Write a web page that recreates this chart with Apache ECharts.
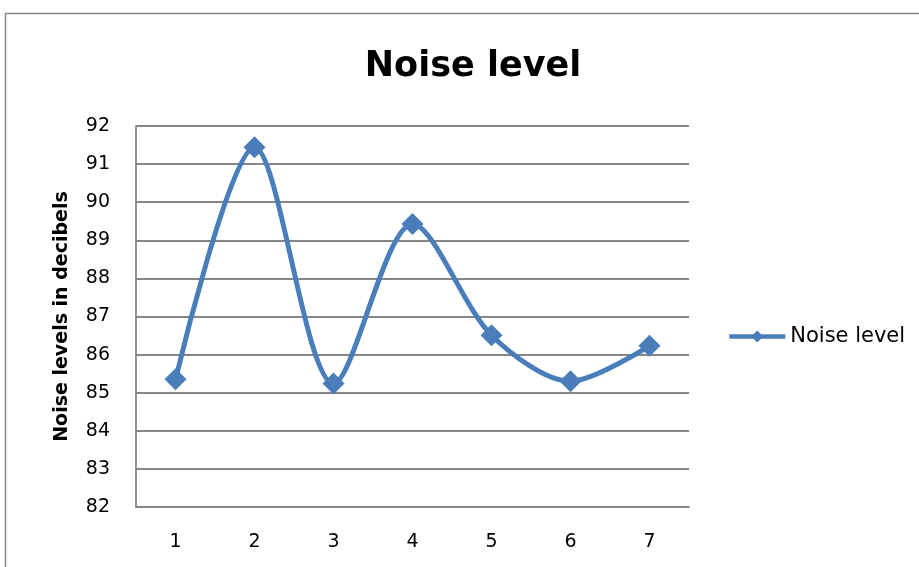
<!DOCTYPE html>
<html><head><meta charset="utf-8">
<script src="https://cdn.jsdelivr.net/npm/echarts@6/dist/echarts.min.js"></script>
<style>html,body{margin:0;padding:0;background:#fff}#c{width:919px;height:567px}</style>
</head><body><div id="c"></div>
<script>
const categories = ['1','2','3','4','5','6','7'];
const noiseLevel = [85.35, 91.44, 85.24, 89.43, 86.51, 85.30, 86.23];
const yMin = 82, yMax = 92, yStep = 1;

const chart = echarts.init(document.getElementById('c'));
const font = 'DejaVu Sans, sans-serif';
chart.setOption({
  animation: false,
  backgroundColor: '#fff',
  graphic: [{type:'rect', shape:{x:5.5,y:13.5,width:930,height:600}, style:{fill:'none', stroke:'#888', lineWidth:1.5}, silent:true}],
  title: {text:'Noise level', left:468, top:44, textAlign:'center',
    textStyle:{fontFamily:font, fontSize:35, fontWeight:'bold', color:'#000'}},
  legend: {data:['Noise level'], left:722, top:321, itemWidth:56, itemHeight:15, itemGap:0,
    lineStyle:{width:4.5},
    textStyle:{fontFamily:font, fontSize:21, color:'#000'}},
  grid: {left:136, right:230, top:126, bottom:60},
  xAxis: {type:'category', data:categories, boundaryGap:true,
    axisLine:{lineStyle:{color:'#868686', width:1.8}}, axisTick:{show:false},
    axisLabel:{fontFamily:font, fontSize:19, color:'#000', margin:26}},
  yAxis: {type:'value', min:yMin, max:yMax, interval:yStep,
    name:'Noise levels in decibels', nameLocation:'middle', nameGap:64, nameRotate:90,
    nameTextStyle:{fontFamily:font, fontSize:19, fontWeight:'bold', color:'#000'},
    axisLine:{show:true, lineStyle:{color:'#868686', width:1.8}},
    axisTick:{show:false},
    splitLine:{lineStyle:{color:'#868686', width:1.8}},
    axisLabel:{fontFamily:font, fontSize:19, color:'#000', margin:26}},
  series: [{name:'Noise level', type:'line', data:noiseLevel, smooth:0.3,
    symbol:'diamond', symbolSize:22, color:'#4A7EBB',
    lineStyle:{width:5, color:'#4A7EBB'}, itemStyle:{color:'#4A7EBB'}}]
});
</script></body></html>
